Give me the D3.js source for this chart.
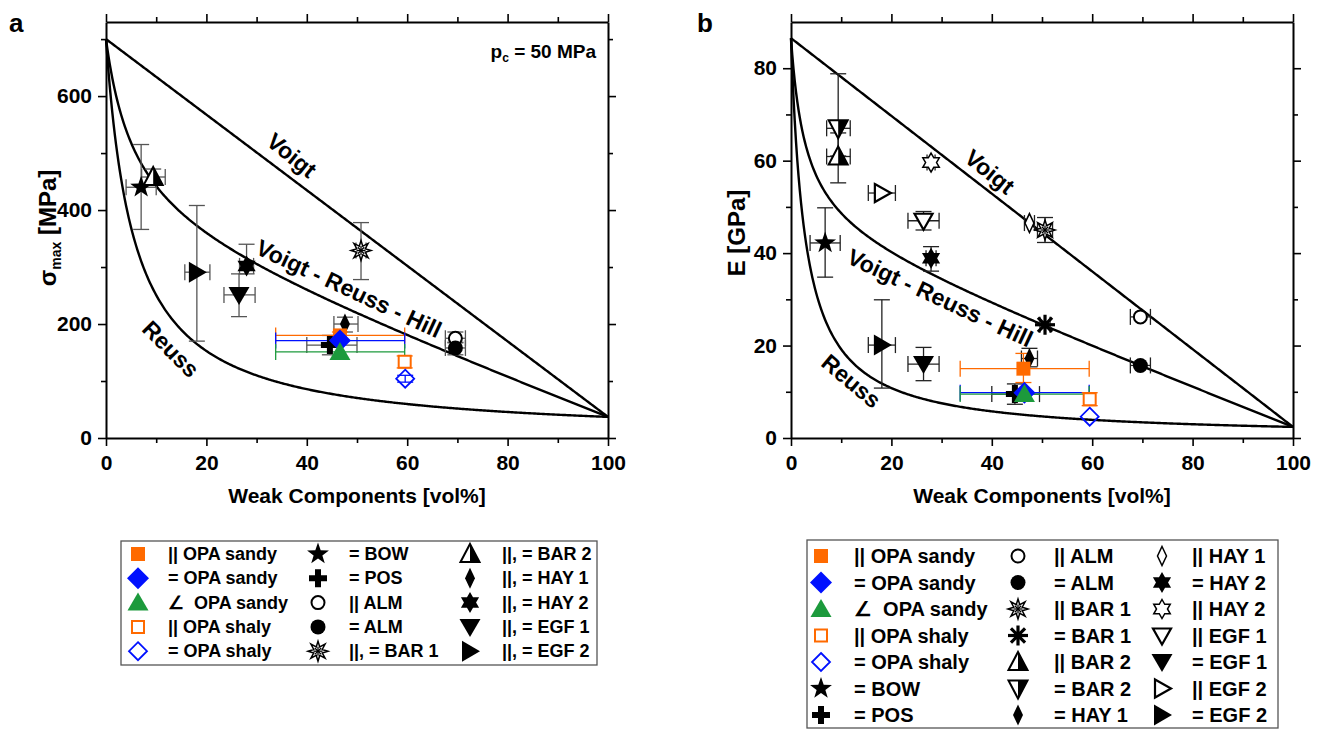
<!DOCTYPE html>
<html>
<head>
<meta charset="utf-8">
<script src="https://cdn.jsdelivr.net/npm/d3@7"></script>
<style>
  body { margin: 0; background: #fff; }
  svg { display: block; }
  text { font-family: "Liberation Sans", Arial, sans-serif; font-weight: bold; fill: #000; }
</style>
</head>
<body>
<svg id="chart" width="1322" height="729"></svg>
<script>
// End-member values of the mixing bounds: [strong component (0 vol%), weak component (100 vol%)]
const strengthEnds = [700, 37];     // sigma_max [MPa]
const stiffnessEnds = [86.5, 2.4];  // E [GPa]

// Axis ticks
const xTicks = [0, 20, 40, 60, 80, 100];
const xMinor = [10, 30, 50, 70, 90];
const yTicksA = [0, 200, 400, 600];
const yMinorA = [100, 300, 500, 700];
const yTicksB = [0, 20, 40, 60, 80];
const yMinorB = [10, 30, 50, 70];

// Colours of the OPA series
const ORANGE = "#ff6a00", BLUE = "#0010ff", GREEN = "#1c9a3c";

// Panel a: peak strength sigma_max (x = weak components vol%, with error ranges)
const strengthData = [
  { sym: "star5",    c: "#000", x: 7.0,  y: 440, xl: 4.0,  xh: 10.0, yl: 366, yh: 515 },
  { sym: "triHalf",  c: "#000", x: 9.4,  y: 458, xl: 7.1,  xh: 11.8, yl: 444, yh: 472 },
  { sym: "triRightF",c: "#000", x: 18.1, y: 291, xl: 15.7, xh: 20.7, yl: 170, yh: 408 },
  { sym: "triDownF", c: "#000", x: 26.5, y: 251, xl: 23.5, xh: 29.7, yl: 213, yh: 288 },
  { sym: "star6F",   c: "#000", x: 28.0, y: 302, xl: 26.6, xh: 29.4, yl: 288, yh: 340 },
  { sym: "burst",    c: "#000", x: 50.8, y: 329, xl: 49.8, xh: 51.8, yl: 278, yh: 378 },
  { sym: "thinDia",  c: "#000", x: 47.6, y: 200, xl: 45.4, xh: 50.2, yl: 186, yh: 212 },
  { sym: "plus",     c: "#000", x: 44.6, y: 163, xl: 40.0, xh: 50.0, yl: 146, yh: 180 },
  { sym: "circO",    c: "#000", x: 69.6, y: 175, xl: 67.6, xh: 71.6, yl: 167, yh: 186 },
  { sym: "circF",    c: "#000", x: 69.6, y: 158, xl: 67.6, xh: 71.6, yl: 146, yh: 168 },
  { sym: "sqF",      c: ORANGE, x: 46.6, y: 180, xl: 33.8, xh: 59.5, yl: 174, yh: 186 },
  { sym: "diaF",     c: BLUE,   x: 46.6, y: 171, xl: 33.8, xh: 59.5 },
  { sym: "triF",     c: GREEN,  x: 46.6, y: 151, xl: 33.8, xh: 59.5 },
  { sym: "sqO",      c: ORANGE, x: 59.5, y: 134, yl: 123, yh: 144 },
  { sym: "diaO",     c: BLUE,   x: 59.6, y: 104, yl: 98,  yh: 110 }
];

// Panel b: Young's modulus E
const stiffnessData = [
  { sym: "star5",     c: "#000", x: 6.8,  y: 42.2, xl: 3.8,  xh: 9.8,  yl: 34.8, yh: 49.8 },
  { sym: "triHalfDown", c: "#000", x: 9.4, y: 67.0, xl: 7.1, xh: 11.8, yl: 61.0, yh: 78.8 },
  { sym: "triHalf",   c: "#000", x: 9.4,  y: 60.9, xl: 7.1,  xh: 11.8, yl: 55.2, yh: 66.0 },
  { sym: "star6O",    c: "#000", x: 27.9, y: 59.6, xl: 27.1, xh: 28.7, yl: 58.8, yh: 60.4 },
  { sym: "triRightO", c: "#000", x: 18.1, y: 53.0, xl: 15.4, xh: 20.8 },
  { sym: "triDownO",  c: "#000", x: 26.4, y: 47.0, xl: 23.3, xh: 29.5, yl: 45.0, yh: 49.0 },
  { sym: "thinDiaO",  c: "#000", x: 47.5, y: 46.5, xl: 46.5, xh: 48.5 },
  { sym: "burst",     c: "#000", x: 50.6, y: 45.0, xl: 49.1, xh: 52.1, yl: 42.3, yh: 47.7 },
  { sym: "star6F",    c: "#000", x: 27.9, y: 38.9, xl: 26.9, xh: 28.9, yl: 36.1, yh: 41.4 },
  { sym: "aster",     c: "#000", x: 50.6, y: 24.5, xl: 49.6, xh: 51.6 },
  { sym: "triRightF", c: "#000", x: 18.1, y: 20.1, xl: 15.4, xh: 20.8, yl: 10.8, yh: 29.9 },
  { sym: "triDownF",  c: "#000", x: 26.4, y: 16.0, xl: 23.3, xh: 29.5, yl: 12.4, yh: 19.6 },
  { sym: "thinDia",   c: "#000", x: 47.5, y: 17.2, xl: 45.9, xh: 49.1, yl: 15.4, yh: 19.4 },
  { sym: "circO",     c: "#000", x: 69.6, y: 26.2, xl: 67.6, xh: 71.6 },
  { sym: "circF",     c: "#000", x: 69.6, y: 15.7, xl: 67.6, xh: 71.6 },
  { sym: "plus",      c: "#000", x: 44.6, y: 9.5,  xl: 40.0, xh: 49.5, yl: 7.3, yh: 11.7 },
  { sym: "sqF",       c: ORANGE, x: 46.3, y: 15.0, xl: 33.7, xh: 59.4, yl: 12.0, yh: 18.3 },
  { sym: "diaF",      c: BLUE,   x: 46.5, y: 9.8,  xl: 33.7, xh: 59.4 },
  { sym: "triF",      c: GREEN,  x: 46.5, y: 9.5,  xl: 33.7, xh: 59.4 },
  { sym: "sqO",       c: ORANGE, x: 59.5, y: 8.4,  yl: 7.0, yh: 9.8 },
  { sym: "diaO",      c: BLUE,   x: 59.5, y: 4.6 }
];

// Legend entries: [symbol, colour, label]
const legendA = [
  [["sqF", ORANGE, "|| OPA sandy"], ["diaF", BLUE, "= OPA sandy"], ["triF", GREEN, "∠\u00a0\u00a0OPA sandy"],
   ["sqO", ORANGE, "|| OPA shaly"], ["diaO", BLUE, "= OPA shaly"]],
  [["star5", "#000", "= BOW"], ["plus", "#000", "= POS"], ["circO", "#000", "|| ALM"],
   ["circF", "#000", "= ALM"], ["burst", "#000", "||, = BAR 1"]],
  [["triHalf", "#000", "||, = BAR 2"], ["thinDia", "#000", "||, = HAY 1"], ["star6F", "#000", "||, = HAY 2"],
   ["triDownF", "#000", "||, = EGF 1"], ["triRightF", "#000", "||, = EGF 2"]]
];
const legendB = [
  [["sqF", ORANGE, "|| OPA sandy"], ["diaF", BLUE, "= OPA sandy"], ["triF", GREEN, "∠\u00a0\u00a0OPA sandy"],
   ["sqO", ORANGE, "|| OPA shaly"], ["diaO", BLUE, "= OPA shaly"], ["star5", "#000", "= BOW"],
   ["plus", "#000", "= POS"]],
  [["circO", "#000", "|| ALM"], ["circF", "#000", "= ALM"], ["burst", "#000", "|| BAR 1"],
   ["aster", "#000", "= BAR 1"], ["triHalf", "#000", "|| BAR 2"], ["triHalfDown", "#000", "= BAR 2"],
   ["thinDia", "#000", "= HAY 1"]],
  [["thinDiaO", "#000", "|| HAY 1"], ["star6F", "#000", "= HAY 2"], ["star6O", "#000", "|| HAY 2"],
   ["triDownO", "#000", "|| EGF 1"], ["triDownF", "#000", "= EGF 1"], ["triRightO", "#000", "|| EGF 2"],
   ["triRightF", "#000", "= EGF 2"]]
];

const svg = d3.select("#chart");

// ---------- marker shapes ----------
const poly = pts => "M" + pts.map(p => p[0].toFixed(2) + "," + p[1].toFixed(2)).join("L") + "Z";
function starPts(n, ro, ri) {
  const pts = [];
  for (let i = 0; i < 2 * n; i++) {
    const a = -Math.PI / 2 + i * Math.PI / n;
    const r = i % 2 ? ri : ro;
    pts.push([r * Math.cos(a), r * Math.sin(a)]);
  }
  return pts;
}
function marker(g, sym, color, x, y) {
  const m = g.append("g").attr("transform", `translate(${x},${y})`);
  const path = (d, fill, stroke, sw) => m.append("path").attr("d", d)
    .attr("fill", fill).attr("stroke", stroke || "none").attr("stroke-width", sw || 0)
    .attr("stroke-linejoin", "miter");
  switch (sym) {
    case "sqF": path(poly([[-7, -7], [7, -7], [7, 7], [-7, 7]]), color); break;
    case "diaF": path(poly([[0, -11], [11, 0], [0, 11], [-11, 0]]), color); break;
    case "triF": path(poly([[0, -10], [10.5, 8], [-10.5, 8]]), color); break;
    case "sqO": path(poly([[-6, -6], [6, -6], [6, 6], [-6, 6]]), "#fff", color, 2); break;
    case "diaO": path(poly([[0, -9], [9, 0], [0, 9], [-9, 0]]), "none", color, 1.8); break;
    case "star5": path(poly(starPts(5, 11.5, 4.6)), "#000"); break;
    case "plus": path(poly([[-3, -9], [3, -9], [3, -3], [9, -3], [9, 3], [3, 3], [3, 9], [-3, 9], [-3, 3], [-9, 3], [-9, -3], [-3, -3]]), "#000"); break;
    case "circO": m.append("circle").attr("r", 6.5).attr("fill", "#fff").attr("stroke", "#000").attr("stroke-width", 2); break;
    case "circF": m.append("circle").attr("r", 7.5).attr("fill", "#000"); break;
    case "burst": {
      path(poly(starPts(8, 10, 4.6)), "#fff", "#000", 1.5);
      const s = m.append("g").attr("stroke", "#000").attr("stroke-width", 1.3);
      [[0, -4.5, 0, 4.5], [-4.5, 0, 4.5, 0], [-3.2, -3.2, 3.2, 3.2], [-3.2, 3.2, 3.2, -3.2]]
        .forEach(l => s.append("line").attr("x1", l[0]).attr("y1", l[1]).attr("x2", l[2]).attr("y2", l[3]));
      break;
    }
    case "aster": {
      const s = m.append("g").attr("stroke", "#000").attr("stroke-width", 3.2);
      for (let i = 0; i < 4; i++) {
        const a = i * Math.PI / 4;
        s.append("line").attr("x1", -10 * Math.cos(a)).attr("y1", -10 * Math.sin(a))
          .attr("x2", 10 * Math.cos(a)).attr("y2", 10 * Math.sin(a));
      }
      m.append("circle").attr("r", 4).attr("fill", "#000");
      break;
    }
    case "triHalf":
      path(poly([[0, -10], [9.5, 8], [-9.5, 8]]), "#fff", "#000", 2);
      path(poly([[0, -10], [9.5, 8], [0, 8]]), "#000");
      break;
    case "triHalfDown":
      path(poly([[-9.5, -8], [9.5, -8], [0, 10]]), "#fff", "#000", 2);
      path(poly([[0, -8], [9.5, -8], [0, 10]]), "#000");
      break;
    case "thinDia": path(poly([[0, -10.5], [5, 0], [0, 10.5], [-5, 0]]), "#000"); break;
    case "thinDiaO": path(poly([[0, -9.5], [4.5, 0], [0, 9.5], [-4.5, 0]]), "#fff", "#000", 1.5); break;
    case "star6F": path(poly(starPts(6, 10.5, 6.06)), "#000"); break;
    case "star6O": path(poly(starPts(6, 9.5, 5.48)), "#fff", "#000", 1.5); break;
    case "triDownF": path(poly([[-10.5, -8], [10.5, -8], [0, 10]]), "#000"); break;
    case "triRightF": path(poly([[-8, -10.5], [10, 0], [-8, 10.5]]), "#000"); break;
    case "triDownO": path(poly([[-9, -7], [9, -7], [0, 9]]), "#fff", "#000", 2.2); break;
    case "triRightO": path(poly([[-7, -9], [9, 0], [-7, 9]]), "#fff", "#000", 2.2); break;
  }
}

// ---------- one panel ----------
function panel(o) {
  const x = d3.scaleLinear([0, 100], [o.x0, o.x1]);
  const y = d3.scaleLinear([0, o.yMax], [438, 22]);
  const g = svg.append("g");

  // axes: labelled bottom/left, mirrored tick marks on top/right
  const axisStyle = (sel) => {
    sel.select(".domain").attr("stroke", "#000").attr("stroke-width", 2);
    sel.selectAll(".tick line").attr("stroke", "#000").attr("stroke-width", 1.6);
    sel.selectAll(".tick text").style("font-size", "21px").style("font-weight", "bold")
      .style("font-family", "'Liberation Sans', Arial, sans-serif").attr("fill", "#000");
  };
  const addAxis = (gen, tx, ty, minorGen) => {
    const a = g.append("g").attr("transform", `translate(${tx},${ty})`).call(gen);
    axisStyle(a);
    if (minorGen) { const mi = g.append("g").attr("transform", `translate(${tx},${ty})`).call(minorGen); mi.select(".domain").remove(); axisStyle(mi); }
    return a;
  };
  const bottom = addAxis(d3.axisBottom(x).tickValues(xTicks).tickSize(8).tickPadding(6).tickSizeOuter(0), 0, 438,
    d3.axisBottom(x).tickValues(xMinor).tickSize(5).tickFormat(""));
  bottom.selectAll(".tick text").attr("dy", "0.85em");
  addAxis(d3.axisTop(x).tickValues(xTicks).tickSize(8).tickFormat("").tickSizeOuter(0), 0, 22,
    d3.axisTop(x).tickValues(xMinor).tickSize(5).tickFormat(""));
  addAxis(d3.axisLeft(y).tickValues(o.yTicks).tickSize(8).tickPadding(6).tickSizeOuter(0), o.x0, 0,
    d3.axisLeft(y).tickValues(o.yMinor).tickSize(5).tickFormat(""));
  addAxis(d3.axisRight(y).tickValues(o.yTicks).tickSize(8).tickFormat("").tickSizeOuter(0), o.x1, 0,
    d3.axisRight(y).tickValues(o.yMinor).tickSize(5).tickFormat(""));

  // Voigt (arithmetic), Reuss (harmonic) and Voigt-Reuss-Hill (their mean) mixing curves
  const [ms, mw] = o.ends;
  const voigt = f => (1 - f) * ms + f * mw;
  const reuss = f => 1 / ((1 - f) / ms + f / mw);
  const hill = f => (voigt(f) + reuss(f)) / 2;
  const fs = d3.range(0, 100.001, 0.25);
  const line = d3.line().x(p => x(p[0])).y(p => y(p[1]));
  [voigt, reuss, hill].forEach(fn => {
    g.append("path").attr("d", line(fs.map(v => [v, fn(v / 100)])))
      .attr("fill", "none").attr("stroke", "#000").attr("stroke-width", 2.4);
  });

  // curve names along the lines
  o.curveLabels.forEach(l => {
    g.append("text").attr("transform", `translate(${x(l.x)},${y(l.y)}) rotate(${l.a})`)
      .attr("text-anchor", "middle").attr("dominant-baseline", "central")
      .style("font-size", "23px").text(l.t);
  });

  // error bars
  const eb = g.append("g").attr("fill", "none");
  const cap = 8;
  o.data.forEach(d => {
    const col = d.c === "#000" ? o.errColor : d.c;
    const cx = x(d.x), cy = y(d.y);
    const seg = (x1, y1, x2, y2) => eb.append("line").attr("x1", x1).attr("y1", y1).attr("x2", x2).attr("y2", y2)
      .attr("stroke", col).attr("stroke-width", 1.3);
    if (d.xl !== undefined) {
      seg(x(d.xl), cy, x(d.xh), cy);
      seg(x(d.xl), cy - cap, x(d.xl), cy + cap);
      seg(x(d.xh), cy - cap, x(d.xh), cy + cap);
    }
    if (d.yl !== undefined) {
      seg(cx, y(d.yl), cx, y(d.yh));
      seg(cx - cap, y(d.yl), cx + cap, y(d.yl));
      seg(cx - cap, y(d.yh), cx + cap, y(d.yh));
    }
  });
  const mk = g.append("g");
  o.data.forEach(d => marker(mk, d.sym, d.c, x(d.x), y(d.y)));

  // titles
  g.append("text").attr("x", (o.x0 + o.x1) / 2).attr("y", 503).attr("text-anchor", "middle")
    .style("font-size", "21px").text("Weak Components [vol%]");
  g.append("text").attr("x", o.panelX).attr("y", 32).style("font-size", "26px").text(o.panelLabel);
  const yt = g.append("text").attr("transform", `translate(${o.yTitleX},${o.yTitleY}) rotate(-90)`)
    .attr("text-anchor", "middle").style("font-size", "24px");
  o.yTitle(yt);

  // legend
  const L = o.legend;
  g.append("rect").attr("x", L.x0).attr("y", L.y0).attr("width", L.x1 - L.x0).attr("height", L.y1 - L.y0)
    .attr("fill", "#fff").attr("stroke", "#555").attr("stroke-width", 1.3);
  o.legendItems.forEach((col, ci) => {
    col.forEach((it, ri) => {
      const yy = L.row0 + ri * L.dy;
      marker(g, it[0], it[1], L.sx[ci], yy);
      g.append("text").attr("x", L.tx[ci]).attr("y", yy).attr("dominant-baseline", "central")
        .style("font-size", L.fs + "px").text(it[2]);
    });
  });
  return { g, x, y };
}

// Panel a
const pa = panel({
  x0: 106, x1: 608, yMax: 730, yTicks: yTicksA, yMinor: yMinorA, ends: strengthEnds,
  data: strengthData, errColor: "#555", panelLabel: "a", panelX: 9, yTitleX: 56, yTitleY: 228,
  curveLabels: [
    { t: "Voigt", x: 37.0, y: 496, a: 39 },
    { t: "Voigt - Reuss - Hill", x: 48.4, y: 262, a: 25 },
    { t: "Reuss", x: 12.9, y: 156, a: 45 }
  ],
  yTitle: t => {
    t.append("tspan").text("σ");
    t.append("tspan").attr("dy", 5).style("font-size", "14px").text("max");
    t.append("tspan").attr("dy", -5).text(" [MPa]");
  },
  legend: { x0: 121, x1: 597, y0: 541, y1: 665, row0: 554, dy: 24.3, sx: [138, 318, 470], tx: [168, 349, 502], fs: 18 },
  legendItems: legendA
});
// pressure annotation
const pc = pa.g.append("text").attr("x", 596).attr("y", 58).attr("text-anchor", "end").style("font-size", "19px");
pc.append("tspan").text("p");
pc.append("tspan").attr("dy", 4).style("font-size", "12px").text("c");
pc.append("tspan").attr("dy", -4).text(" = 50 MPa");

// Panel b
panel({
  x0: 791, x1: 1293, yMax: 90, yTicks: yTicksB, yMinor: yMinorB, ends: stiffnessEnds,
  data: stiffnessData, errColor: "#222", panelLabel: "b", panelX: 697, yTitleX: 745, yTitleY: 233,
  curveLabels: [
    { t: "Voigt", x: 39.6, y: 57.6, a: 39 },
    { t: "Voigt - Reuss - Hill", x: 29.7, y: 30.3, a: 25 },
    { t: "Reuss", x: 12.0, y: 12.3, a: 40 }
  ],
  yTitle: t => t.text("E [GPa]"),
  legend: { x0: 807, x1: 1278, y0: 540, y1: 728, row0: 556, dy: 26.5, sx: [821, 1018, 1162], tx: [854, 1054, 1192], fs: 20 },
  legendItems: legendB
});
</script>
</body>
</html>
